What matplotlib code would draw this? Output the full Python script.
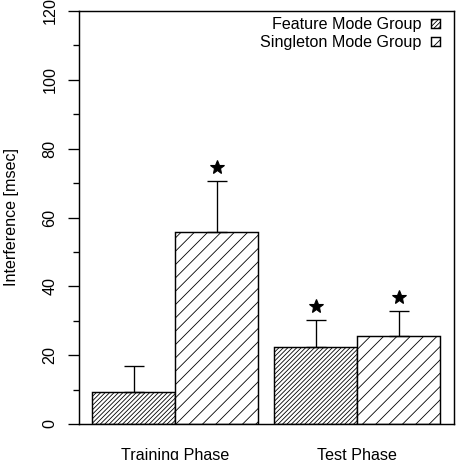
import matplotlib
matplotlib.use("Agg")
import matplotlib.pyplot as plt
import numpy as np

# ---- data ----
phases = ["Training Phase", "Test Phase"]
groups = ["Feature Mode Group", "Singleton Mode Group"]
feature_vals = [9.2, 22.4]
feature_err = [7.7, 7.7]
singleton_vals = [55.7, 25.6]
singleton_err = [14.9, 7.3]
feature_sig = [False, True]
singleton_sig = [True, True]
yticks_major = [0, 20, 40, 60, 80, 100, 120]

plt.rcParams['font.family'] = ['Liberation Sans', 'DejaVu Sans']
plt.rcParams['hatch.linewidth'] = 0.75
plt.rcParams['hatch.color'] = 'black'

DPI = 80
fig = plt.figure(figsize=(460 / DPI, 460 / DPI), dpi=DPI)
ax = fig.add_axes([79 / 460, 1 - 424 / 460, 375 / 460, 413 / 460])

width = 1.0
gap = 2.193
centers = np.arange(len(phases)) * gap
fs = 14.5

err_kw = dict(ecolor='black', elinewidth=1.2, capsize=9, capthick=1.2)
b1 = ax.bar(centers - width / 2, feature_vals, width, color='white', edgecolor='black',
            linewidth=1.3, hatch='//////', label=groups[0])
b2 = ax.bar(centers + width / 2, singleton_vals, width, color='white', edgecolor='black',
            linewidth=1.3, hatch='//', label=groups[1])
ax.errorbar(centers - width / 2, feature_vals, yerr=[np.zeros(2), feature_err], fmt='none', **err_kw)
ax.errorbar(centers + width / 2, singleton_vals, yerr=[np.zeros(2), singleton_err], fmt='none', **err_kw)

star_off = 4.1
for xs, vals, errs, sig in [(centers - width / 2, feature_vals, feature_err, feature_sig),
                            (centers + width / 2, singleton_vals, singleton_err, singleton_sig)]:
    for x, v, e, s in zip(xs, vals, errs, sig):
        if s:
            ax.plot([x], [v + e + star_off], marker='*', color='black', ms=13, linestyle='none')

ax.set_xlim(-1.157, 3.361)
ax.set_ylim(0, 120)
ax.set_yticks(yticks_major)
ax.set_yticks(np.arange(10, 120, 20), minor=True)
ax.set_yticklabels([str(t) for t in yticks_major], rotation=90, va='center', fontsize=fs)
ax.tick_params(axis='y', which='major', length=9.9, width=1.2, pad=9.5)
ax.tick_params(axis='y', which='minor', length=5.4, width=1.2)
ax.set_xticks(centers)
ax.set_xticklabels(phases, fontsize=fs)
ax.tick_params(axis='x', length=0, pad=22)

for sp in ax.spines.values():
    sp.set_linewidth(1.3)

ax.set_ylabel("Interference [msec]", fontsize=fs)
ax.yaxis.set_label_coords((19 - 79) / 375, 0.5)

ax.legend(loc='upper right', bbox_to_anchor=((440 - 79) / 375, 1 - (17.5 - 11) / 413),
          markerfirst=False, frameon=False, fontsize=fs, borderpad=0, borderaxespad=0,
          handlelength=0.56, handleheight=0.45, handletextpad=0.6, labelspacing=0.17)

fig.savefig("out.png", dpi=DPI)
